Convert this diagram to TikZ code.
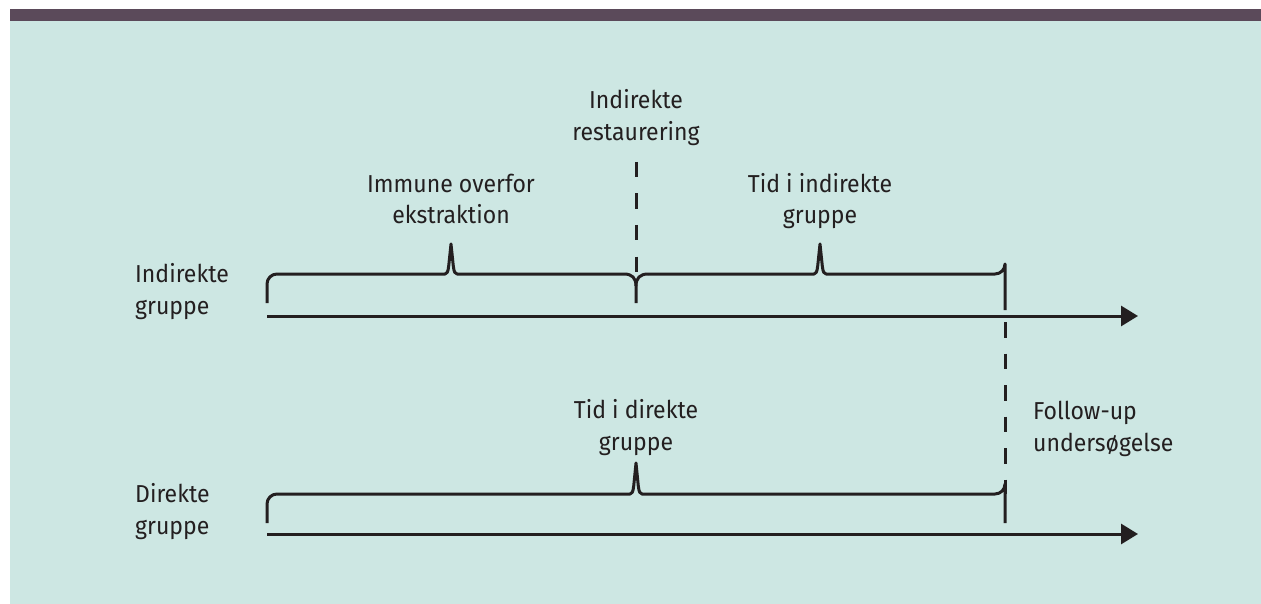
\documentclass[tikz,border=0pt]{standalone}
\usepackage{fontspec}
\setmainfont{Fira Sans}[FakeStretch=0.94]
\usetikzlibrary{arrows.meta}
\definecolor{barcol}{HTML}{5B4A5A}
\definecolor{bgcol}{HTML}{CDE7E3}
\definecolor{ink}{HTML}{231F20}
\tikzset{
  lbl/.style={font=\fontsize{24.5}{32}\selectfont, text=ink, inner sep=0pt, align=center, anchor=base},
  lbll/.style={lbl, align=left, anchor=base west},
  brace/.style={draw=ink, line width=3pt, line join=round},
  axis/.style={draw=ink, line width=3pt, -{Triangle[length=17pt,width=20pt]}},
  dash line/.style={draw=ink, line width=3pt, dash pattern=on 15.5pt off 16pt}
}
\begin{document}
\begin{tikzpicture}[x=1pt,y=-1pt]
\useasboundingbox (0,0) rectangle (1261,604);
\fill[white] (0,0) rectangle (1261,604);
\fill[bgcol] (10,21) rectangle (1261,604);
\fill[barcol] (10,9) rectangle (1261,21);

% coordinates
\coordinate (uL) at (267,316);
\coordinate (uR) at (1138,316);
\coordinate (lL) at (267,534);
\coordinate (lR) at (1138,534);
\coordinate (restTop) at (636,162);
\coordinate (restJ) at (636,274);
\coordinate (fuTop) at (1005,322);
\coordinate (fuBot) at (1005,494);

% axes
\draw[axis] (uL) -- (uR);
\draw[axis] (lL) -- (lR);

% upper braces
\path[brace] (267,303) -- (267,284) arc[start angle=180,end angle=270,radius=10] -- (445,274)
  .. controls (447,274) and (448,272) .. (448.7,266) -- (451,244) -- (453.3,266)
  .. controls (454,272) and (455,274) .. (457,274) -- (624,274)
  .. controls (632,274) and (636,278) .. (636,286) -- (636,303);
\path[brace] (648,274) .. controls (640,274) and (636,278) .. (636,286);
\path[brace] (648,274) -- (814,274)
  .. controls (816,274) and (817,272) .. (817.7,266) -- (820,244) -- (822.3,266)
  .. controls (823,272) and (824,274) .. (826,274) -- (995,274)
  arc[start angle=90,end angle=0,radius=10] -- (1005,310);

% lower brace
\path[brace] (267,523) -- (267,504) arc[start angle=180,end angle=270,radius=10] -- (630,494)
  .. controls (632,494) and (633,492) .. (633.7,486) -- (636,463) -- (638.3,486)
  .. controls (639,492) and (640,494) .. (642,494) -- (995,494)
  arc[start angle=90,end angle=0,radius=10] -- (1005,523);

% dashed lines
\path[dash line] (restTop) -- (restJ);
\path[dash line] (fuTop) -- (fuBot);

% labels (anchor = baseline of last line)
\node[lbl] (rest) at (636,141) {Indirekte\\restaurering};
\node[lbl] (imm) at (451,224) {Immune overfor\\ekstraktion};
\node[lbl] (tidind) at (820,224) {Tid i indirekte\\gruppe};
\node[lbl] (tiddir) at (636,450) {Tid i direkte\\gruppe};
\node[lbll] (fu) at (1033,451) {Follow-up\\undersøgelse};
\node[lbll] (indg) at (135,314) {Indirekte\\gruppe};
\node[lbll] (dirg) at (135,534) {Direkte\\gruppe};
\end{tikzpicture}
\end{document}
